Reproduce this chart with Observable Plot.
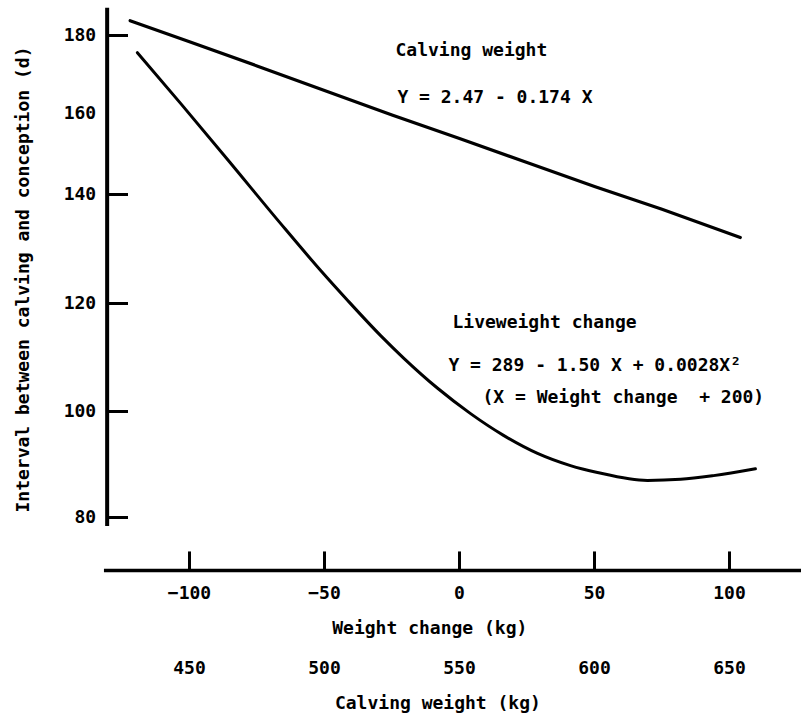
<!DOCTYPE html>
<html>
<head>
<meta charset="utf-8">
<script src="https://cdn.jsdelivr.net/npm/d3@7"></script>
<script src="https://cdn.jsdelivr.net/npm/@observablehq/plot@0.6"></script>
<style>
  html, body { margin: 0; padding: 0; background: #fff; }
</style>
</head>
<body>
<div id="chart"></div>
<script>
// ---- data ----
const weightChangeTicks = [-100, -50, 0, 50, 100];
const calvingWeightTicks = [450, 500, 550, 600, 650];
const intervalTicks = [80, 100, 120, 140, 160, 180];
const intervalTickMarks = [80, 100, 120, 140, 180]; // the 160 tick is not printed

// Calving weight regression (straight line)
const calvingX = [-122, -100, -75, -50, -25, 0, 25, 50, 75, 104];
const calvingY = [183.8, 178.4, 172.2, 165.9, 159.6, 153.8, 147.9, 142.0, 137.3, 132.1];

// Liveweight change regression (quadratic)
const liveX = [-119.3, -103.3, -85.6, -66.3, -51.5, -41.5, -29.3, -20.7, -8.1, 4.1, 16.3, 28.9, 41.1, 51.1, 69.6, 81.9, 94.1, 109.6];
const liveY = [175.6, 162.6, 148.4, 134.7, 126.1, 120.6, 114.1, 109.9, 104.3, 99.6, 95.5, 92.1, 89.8, 88.5, 87.0, 87.2, 87.9, 89.2];

const annotations = [
  {x: -23.7, y: 176.2, text: "Calving weight"},
  {x: -23.0, y: 164.1, text: "Y = 2.47 - 0.174 X"},
  {x: -2.6, y: 116.5, text: "Liveweight change"},
  {x: -4.1, y: 108.5, text: "Y = 289 - 1.50 X + 0.0028X²"},
  {x: 8.5, y: 102.6, text: "(X = Weight change  + 200)"}
];

// axis geometry (in data units)
const yAxisX = -130.5;
const yTickEnd = -122.6;
const yAxisExtent = [78.3, 187];
const xAxisY = 70;
const xTickTop = 73.5;
const xAxisExtent = [-131.5, 127];

const calvingData = calvingX.map((x, i) => ({x, y: calvingY[i]}));
const liveData = liveX.map((x, i) => ({x, y: liveY[i]}));

const font = {fontFamily: "DejaVu Sans Mono", fontSize: 18, fontWeight: "bold", fill: "black"};

const chart = Plot.plot({
  width: 801,
  height: 717,
  marginTop: 0, marginRight: 0, marginBottom: 0, marginLeft: 0,
  style: {background: "white", color: "black"},
  x: {type: "linear", domain: [-100, 100], range: [189, 729], axis: null},
  // the printed axis has uneven spacing between its labelled values (piecewise linear)
  y: {type: "linear", domain: intervalTicks, range: [517, 411, 303, 194, 113, 35], axis: null},
  marks: [
    // y axis
    Plot.ruleX([yAxisX], {x: d => d, y1: yAxisExtent[0], y2: yAxisExtent[1], stroke: "black", strokeWidth: 4}),
    Plot.ruleY(intervalTickMarks, {y: d => d, x1: yAxisX, x2: yTickEnd, stroke: "black", strokeWidth: 3}),
    Plot.text(intervalTicks, {x: yAxisX, y: d => d, text: d => String(d), textAnchor: "end", dx: -11, ...font}),
    Plot.text(["Interval between calving and conception (d)"], {x: -161.5, y: 124.4, text: d => d, rotate: -90, ...font}),
    // x axis
    Plot.ruleY([xAxisY], {y: d => d, x1: xAxisExtent[0], x2: xAxisExtent[1], stroke: "black", strokeWidth: 3.5}),
    Plot.ruleX(weightChangeTicks, {x: d => d, y1: xAxisY, y2: xTickTop, stroke: "black", strokeWidth: 3}),
    Plot.text(weightChangeTicks, {x: d => d, y: 65.7, text: d => d < 0 ? "\u2212" + Math.abs(d) : String(d), ...font}),
    Plot.text(["Weight change (kg)"], {x: -11, y: 59.2, text: d => d, ...font}),
    Plot.text(calvingWeightTicks, {x: d => d - 550, y: 51.5, text: d => String(d), ...font}),
    Plot.text(["Calving weight (kg)"], {x: -8, y: 44.9, text: d => d, ...font}),
    // curves
    Plot.line(calvingData, {x: "x", y: "y", stroke: "black", strokeWidth: 3.2}),
    Plot.line(liveData, {x: "x", y: "y", curve: "monotone-x", stroke: "black", strokeWidth: 3}),
    // annotations
    Plot.text(annotations, {x: "x", y: "y", text: "text", textAnchor: "start", ...font})
  ]
});

document.getElementById("chart").append(chart);
</script>
</body>
</html>
